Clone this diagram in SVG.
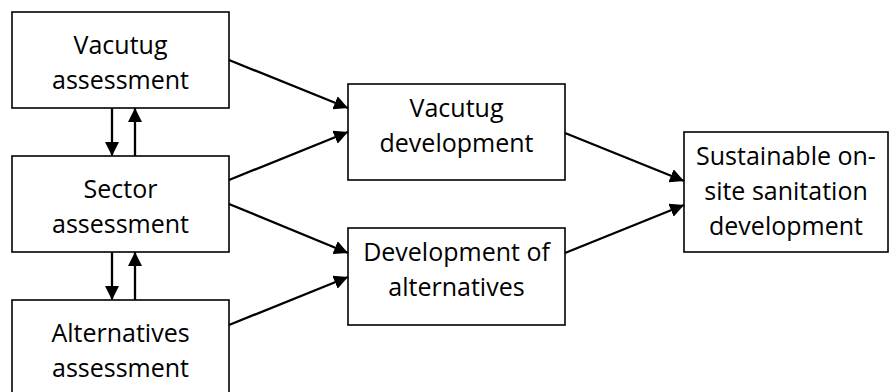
<svg xmlns="http://www.w3.org/2000/svg" width="890" height="392" viewBox="0 0 890 392">
<style>
.box{fill:#fff;stroke:#000;stroke-width:1.6}
.t{font-family:"Open Sans","Liberation Sans",sans-serif;font-size:25px;fill:#000;text-anchor:middle}
.c{stroke:#000;stroke-width:2.3;fill:none;marker-end:url(#ah)}
</style>
<defs>
<marker id="ah" markerUnits="userSpaceOnUse" markerWidth="16" markerHeight="14" refX="14" refY="7" orient="auto">
<path d="M0,0 L14,7 L0,14 Z" fill="#000"/>
</marker>
</defs>
<rect width="890" height="392" fill="#fff"/>
<g id="vacutug-assessment">
<rect class="box" x="12" y="12" width="217" height="96"/>
<text class="t" x="120.5" y="54">Vacutug</text>
<text class="t" x="120.5" y="89">assessment</text>
</g>
<g id="sector-assessment">
<rect class="box" x="12" y="156" width="217" height="96"/>
<text class="t" x="120.5" y="198">Sector</text>
<text class="t" x="120.5" y="233">assessment</text>
</g>
<g id="alternatives-assessment">
<rect class="box" x="12" y="300" width="217" height="100"/>
<text class="t" x="120.5" y="342">Alternatives</text>
<text class="t" x="120.5" y="377">assessment</text>
</g>
<g id="vacutug-development">
<rect class="box" x="348" y="84" width="217" height="96"/>
<text class="t" x="456.5" y="117">Vacutug</text>
<text class="t" x="456.5" y="152">development</text>
</g>
<g id="development-of-alternatives">
<rect class="box" x="348" y="228" width="217" height="97"/>
<text class="t" x="456.5" y="261">Development of</text>
<text class="t" x="456.5" y="296">alternatives</text>
</g>
<g id="sustainable-development">
<rect class="box" x="684" y="132" width="204" height="120"/>
<text class="t" x="786" y="165">Sustainable on-</text>
<text class="t" x="786" y="200">site sanitation</text>
<text class="t" x="786" y="235">development</text>
</g>
<g id="connectors">
<line class="c" x1="112" y1="108" x2="112" y2="156"/>
<line class="c" x1="135" y1="156" x2="135" y2="108"/>
<line class="c" x1="112" y1="252" x2="112" y2="300"/>
<line class="c" x1="135" y1="300" x2="135" y2="252"/>
<line class="c" x1="229" y1="60" x2="348" y2="108"/>
<line class="c" x1="229" y1="180" x2="348" y2="132"/>
<line class="c" x1="229" y1="204" x2="348" y2="253"/>
<line class="c" x1="229" y1="325" x2="348" y2="277"/>
<line class="c" x1="565" y1="133" x2="684" y2="181"/>
<line class="c" x1="565" y1="253" x2="684" y2="205"/>
</g>
</svg>
